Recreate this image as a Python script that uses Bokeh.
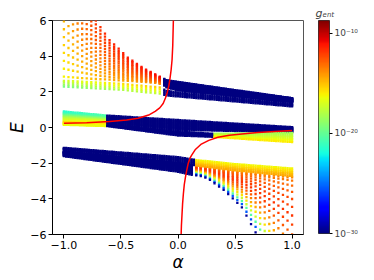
import numpy as np
from bokeh.plotting import figure
from bokeh.models import (ColumnDataSource, LogColorMapper, LinearColorMapper, FixedTicker,
                          CustomJSTickFormatter, Range1d)
from bokeh.layouts import row
from bokeh.embed import file_html
from bokeh.resources import INLINE

# ---------------- data ----------------
alpha_grid = np.round(np.arange(-1.0, 1.0 + 1e-9, 0.02), 2)   # sampled alpha values
BLUE_LOG = -30.0                                                # log10 g_ent of the dark-blue points

# upper band, thick part (fans upward for alpha < -0.12)
UA_alpha = [-1.0, -0.9, -0.8, -0.72, -0.6, -0.5, -0.45, -0.3, -0.2, -0.16, -0.12, -0.1, 0.0, 0.5, 1.0]
UA_top   = [9.5, 8.1, 6.9, 6.0, 4.9, 4.3, 3.96, 3.31, 2.98, 2.85, 2.72, 2.66, 2.56, 2.1, 1.65]
UA_bot   = [2.85, 2.8, 2.75, 2.72, 2.68, 2.64, 2.62, 2.55, 2.5, 2.45, 2.35, 2.25, 2.08, 1.75, 1.42]
UA_lines = 16
UA_col_t = [0.0, 0.3, 0.6, 1.0]
UA_col_g = [-14.5, -13.5, -12.5, -11.5]
UA_col_a = [-1.0, -0.85, -0.6, -0.13]
UA_col_s = [-1.8, -0.8, 0.0, 0.6]

# upper band, thin part
UB_alpha = [-1.0, -0.5, -0.16, -0.1, 0.0, 1.0]
UB_top   = [2.62, 2.45, 2.25, 2.05, 1.97, 1.33]
UB_bot   = [2.3, 2.12, 1.9, 1.8, 1.74, 1.18]
UB_lines = 4
UB_col_t = [0.0, 1.0]
UB_col_g = [-18.0, -15.8]
UB_col_a = [-1.0, -0.5, -0.13]
UB_col_s = [-1.5, 0.0, 0.5]

# middle band, thick part
MA_alpha = [-1.0, -0.62, 0.0, 1.0]
MA_top   = [0.9, 0.67, 0.42, 0.02]
MA_bot   = [0.35, 0.24, -0.13, -0.26]
MA_lines = 12
MA_col_t = [0.0, 0.5, 1.0]
MA_col_g = [-15.5, -17.5, -21.0]
MA_col_a = [-1.0, -0.63]
MA_col_s = [-0.5, 0.5]

# middle band, thin part (fans downward for alpha > 0.3)
MB_alpha = [-1.0, -0.62, 0.0, 0.3, 0.6, 1.0]
MB_top   = [0.3, 0.18, -0.22, -0.35, -0.33, -0.3]
MB_bot   = [0.15, 0.08, -0.45, -0.52, -0.65, -0.82]
MB_lines = 7
MB_left_g = [-15.5, -16.5]
MB_right_g = [-18.5, -16.0]

# lower band, thick part (fans downward for alpha > 0.12)
LA_alpha = [-1.0, 0.0, 0.12, 0.2, 0.26, 0.41, 0.56, 0.68, 0.8, 0.9, 1.0]
LA_top   = [-1.35, -1.98, -2.12, -2.2, -2.25, -2.4, -2.52, -2.6, -2.68, -2.74, -2.8]
LA_bot   = [-1.61, -2.48, -2.65, -2.72, -2.85, -3.54, -4.48, -5.88, -7.5, -9.0, -10.5]
LA_lines = 16
LA_col_t = [0.0, 0.15, 0.3, 0.45, 0.6, 0.72, 0.82, 0.9, 1.0]
LA_col_g = [-13.5, -12.3, -11.8, -13.0, -15.0, -17.0, -20.5, -25.0, -29.5]

# lower band, thin part
LB_alpha = [-1.0, 0.0, 0.15, 0.5, 1.0]
LB_top   = [-1.14, -1.66, -1.82, -2.05, -2.3]
LB_bot   = [-1.26, -1.9, -2.12, -2.4, -2.72]
LB_lines = 5
LB_col_t = [0.0, 1.0]
LB_col_g = [-16.3, -14.5]

# red analytic curve, two branches
red_left_alpha = [-1.0, -0.8, -0.6, -0.45, -0.35, -0.25, -0.2, -0.16, -0.13, -0.11, -0.095,
                  -0.08, -0.07, -0.06, -0.052, -0.046, -0.041, -0.038]
red_left_E     = [0.24, 0.27, 0.33, 0.42, 0.52, 0.72, 0.9, 1.1, 1.35, 1.65, 1.95,
                  2.35, 2.75, 3.25, 3.8, 4.6, 5.9, 6.6]
red_right_alpha = [0.025, 0.03, 0.035, 0.04, 0.047, 0.055, 0.065, 0.076, 0.09, 0.105, 0.12,
                   0.15, 0.2, 0.27, 0.35, 0.45, 0.56, 0.7, 0.85, 1.0]
red_right_E     = [-6.5, -5.5, -4.9, -4.3, -3.73, -3.2, -2.8, -2.42, -2.0, -1.72, -1.55,
                   -1.25, -0.95, -0.72, -0.55, -0.44, -0.36, -0.28, -0.22, -0.17]

x_ticks = [-1.0, -0.5, 0.0, 0.5, 1.0]
y_ticks = [-6, -4, -2, 0, 2, 4, 6]
cbar_ticks = [-30, -20, -10]
cbar_low, cbar_high = -30.0, -8.75
cbar_title = "g\u2091\u2099\u209c"

# ---------------- build points ----------------
def family(knots, anchor, other, n, p, zones):
    xs, ys, gs = [], [], []
    anc = np.interp(alpha_grid, knots, anchor)
    oth = np.interp(alpha_grid, knots, other)
    for k in range(n):
        t = (k / (n - 1)) ** p
        e = anc + (oth - anc) * t
        for i, a in enumerate(alpha_grid):
            g = BLUE_LOG
            step = 1
            for z in zones:
                if z["amin"] <= a <= z["amax"]:
                    g = float(np.interp(t, z["t"], z["g"]))
                    if "sa" in z:
                        g += float(np.interp(a, z["sa"], z["sg"]))
                    step = z["step"]
            if step == 2 and i % 2:
                continue
            if abs(e[i]) > 6.4:
                continue
            xs.append(float(a)); ys.append(float(e[i])); gs.append(10.0 ** g)
    return xs, ys, gs

fams = [
    family(UA_alpha, UA_bot, UA_top, UA_lines, 1.0,
           [dict(amin=-1.0, amax=-0.13, t=UA_col_t, g=UA_col_g, sa=UA_col_a, sg=UA_col_s, step=2)]),
    family(UB_alpha, UB_bot, UB_top, UB_lines, 1.0,
           [dict(amin=-1.0, amax=-0.13, t=UB_col_t, g=UB_col_g, sa=UB_col_a, sg=UB_col_s, step=2)]),
    family(MA_alpha, MA_bot, MA_top, MA_lines, 1.0,
           [dict(amin=-1.0, amax=-0.63, t=MA_col_t, g=MA_col_g, sa=MA_col_a, sg=MA_col_s, step=1)]),
    family(MB_alpha, MB_top, MB_bot, MB_lines, 1.0,
           [dict(amin=-1.0, amax=-0.63, t=[0.0, 1.0], g=MB_left_g, step=1),
            dict(amin=0.31, amax=1.0, t=[0.0, 1.0], g=MB_right_g, step=1)]),
    family(LA_alpha, LA_top, LA_bot, LA_lines, 1.4,
           [dict(amin=0.13, amax=1.0, t=LA_col_t, g=LA_col_g, step=2)]),
    family(LB_alpha, LB_top, LB_bot, LB_lines, 1.0,
           [dict(amin=0.15, amax=1.0, t=LB_col_t, g=LB_col_g, step=1)]),
]
px, py, pg = [], [], []
for xs, ys, gs in fams:
    px += xs; py += ys; pg += gs
src = ColumnDataSource(dict(x=px, y=py, g=pg))

# jet colormap
jx = np.linspace(0, 1, 256)
jr = np.interp(jx, [0, 0.35, 0.66, 0.89, 1], [0, 0, 1, 1, 0.5])
jg = np.interp(jx, [0, 0.125, 0.375, 0.64, 0.91, 1], [0, 0, 1, 1, 0, 0])
jb = np.interp(jx, [0, 0.11, 0.34, 0.65, 1], [0.5, 1, 1, 0, 0])
JET = ["#%02x%02x%02x" % (int(round(255 * a)), int(round(255 * b)), int(round(255 * c)))
       for a, b, c in zip(jr, jg, jb)]

mapper = LogColorMapper(palette=JET, low=10 ** cbar_low, high=10 ** cbar_high)

FONT = "DejaVu Sans"

# ---------------- main figure ----------------
p = figure(frame_width=251, frame_height=214, min_border_left=52, min_border_right=1,
           min_border_top=20, min_border_bottom=44,
           x_range=Range1d(-1.1, 1.1), y_range=Range1d(-6, 6),
           toolbar_location=None, output_backend="svg")
p.grid.visible = False
p.outline_line_color = "#555555"
p.outline_line_width = 1
p.background_fill_color = "white"
p.border_fill_color = "white"

p.scatter("x", "y", source=src, marker="square", size=2.3,
          fill_color={"field": "g", "transform": mapper}, line_color=None)
p.line(red_left_alpha, red_left_E, line_color="#ff0000", line_width=1.5)
p.line(red_right_alpha, red_right_E, line_color="#ff0000", line_width=1.5)

p.xaxis.ticker = FixedTicker(ticks=x_ticks)
p.yaxis.ticker = FixedTicker(ticks=y_ticks)
p.xaxis.formatter = CustomJSTickFormatter(code="return tick.toFixed(1).replace('-', '\u2212');")
p.yaxis.formatter = CustomJSTickFormatter(code="return tick.toFixed(0).replace('-', '\u2212');")
for ax in (p.xaxis[0], p.yaxis[0]):
    ax.major_tick_out = 4
    ax.major_tick_in = 0
    ax.minor_tick_line_color = None
    ax.major_tick_line_color = "black"
    ax.axis_line_color = "black"
    ax.major_label_text_font = FONT
    ax.major_label_text_font_size = "11px"
    ax.major_label_text_color = "black"
    ax.axis_label_text_font = FONT
    ax.axis_label_text_font_style = "italic"
    ax.axis_label_text_font_size = "17px"
    ax.axis_label_text_color = "black"
    ax.axis_label_standoff = 0
p.xaxis.major_label_standoff = 2
p.yaxis.major_label_standoff = 2
p.xaxis.axis_label = "α"
p.yaxis.axis_label = "E"

# ---------------- colour bar ----------------
cb = figure(frame_width=11, frame_height=213, min_border_left=14, min_border_right=37,
            min_border_top=20, min_border_bottom=45,
            x_range=Range1d(0, 1), y_range=Range1d(cbar_low, cbar_high),
            y_axis_location="right", toolbar_location=None, output_backend="svg",
            title=cbar_title)
cb.grid.visible = False
cb.xaxis.visible = False
cb.outline_line_color = "black"
cb.outline_line_width = 0.8
cb.background_fill_color = "white"
cb.border_fill_color = "white"
cb.title.text_font = FONT
cb.title.text_font_style = "italic"
cb.title.text_font_size = "11px"
cb.title.align = "left"
cb.title.offset = -3
cb.title.standoff = 2
grad = np.linspace(cbar_low, cbar_high, 256).reshape(256, 1)
cb.image(image=[grad], x=0, y=cbar_low, dw=1, dh=cbar_high - cbar_low,
         color_mapper=LinearColorMapper(palette=JET, low=cbar_low, high=cbar_high))
ya = cb.yaxis[0]
ya.ticker = FixedTicker(ticks=cbar_ticks)
ya.formatter = CustomJSTickFormatter(code="""
const sup = {"-": "\u207b", "0": "\u2070", "1": "\u00b9", "2": "\u00b2", "3": "\u00b3",
             "4": "\u2074", "5": "\u2075", "6": "\u2076", "7": "\u2077", "8": "\u2078", "9": "\u2079"};
const e = Math.round(tick);
return "10" + String(e).split("").map(c => sup[c]).join("");
""")
ya.major_tick_out = 3
ya.major_tick_in = 0
ya.minor_tick_line_color = None
ya.axis_line_color = None
ya.major_tick_line_color = "black"
ya.major_label_text_font = FONT
ya.major_label_text_font_size = "9px"
ya.major_label_standoff = 2

layout = row(p, cb)
open("out.html", "w").write(file_html(layout, INLINE))
